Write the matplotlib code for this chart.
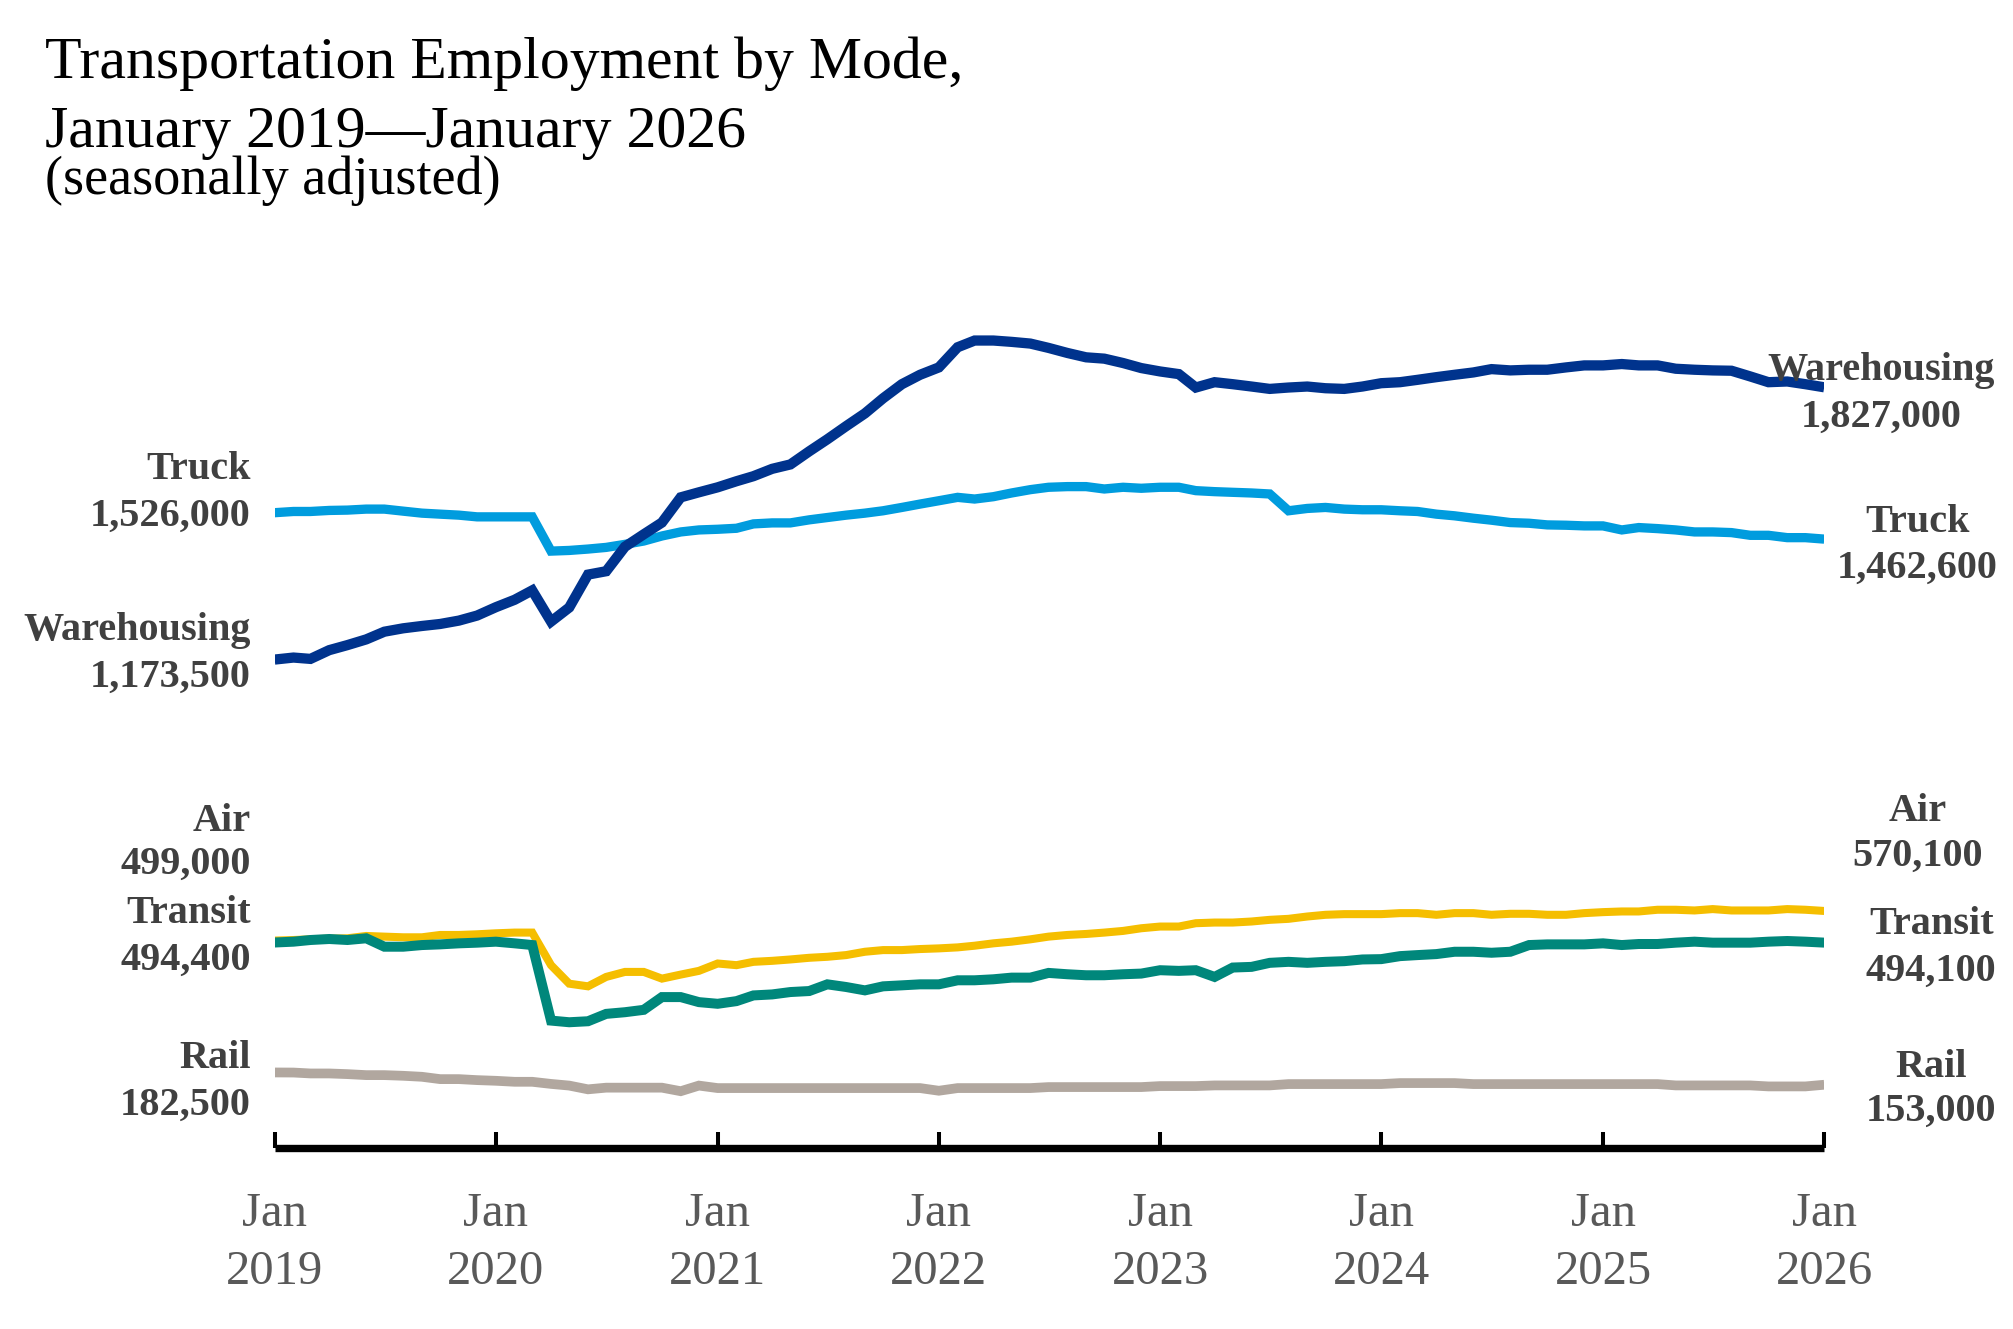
import numpy as np
import pandas as pd
import matplotlib
matplotlib.use("Agg")
import matplotlib.pyplot as plt

plt.rcParams['font.family'] = ['Liberation Serif', 'DejaVu Serif']

# monthly, Jan 2019 - Jan 2026, thousands of jobs
dates = pd.date_range("2019-01-01", "2026-01-01", freq="MS")

warehousing = [
    1173.5, 1178.3, 1175.1, 1196.1, 1208.2, 1221.9, 1240.4, 1248.5, 1254.1, 1258.9, 1267.0, 1279.1,
    1299.2, 1317.0, 1339.5, 1264.6, 1298.4, 1377.4, 1385.5, 1444.3, 1474.1, 1502.3, 1562.8, 1574.9,
    1586.9, 1601.5, 1613.6, 1631.3, 1641.8, 1673.2, 1702.2, 1733.7, 1764.3, 1800.6, 1834.4, 1857.0,
    1874.7, 1923.1, 1939.2, 1939.2, 1936.0, 1931.9, 1921.5, 1909.4, 1898.9, 1895.7, 1885.2, 1873.1,
    1865.0, 1858.6, 1826.4, 1839.2, 1834.4, 1828.8, 1823.1, 1826.4, 1828.8, 1824.7, 1823.1, 1828.8,
    1836.8, 1839.2, 1844.9, 1851.3, 1857.0, 1862.6, 1870.6, 1867.5, 1869.1, 1869.1, 1874.7, 1879.5,
    1879.5, 1882.8, 1879.5, 1879.5, 1871.5, 1869.1, 1867.5, 1866.7, 1853.0, 1839.2, 1840.9, 1834.4,
    1827.0]

truck = [
    1526.0, 1528.9, 1528.9, 1531.4, 1532.2, 1534.6, 1534.6, 1529.7, 1524.9, 1522.5, 1520.1, 1516.0,
    1516.0, 1516.0, 1516.0, 1433.8, 1435.4, 1438.7, 1442.7, 1450.0, 1458.0, 1470.1, 1479.8, 1484.6,
    1486.2, 1488.6, 1499.1, 1501.5, 1501.5, 1508.8, 1514.4, 1520.1, 1524.9, 1530.6, 1538.6, 1546.7,
    1554.7, 1562.8, 1558.8, 1564.4, 1573.3, 1581.3, 1587.0, 1588.6, 1588.6, 1582.9, 1587.0, 1584.6,
    1587.0, 1587.0, 1578.9, 1576.5, 1574.9, 1573.3, 1570.9, 1530.6, 1536.2, 1538.6, 1534.6, 1533.0,
    1533.0, 1530.6, 1528.9, 1522.5, 1518.5, 1512.8, 1508.0, 1502.3, 1500.7, 1496.7, 1495.9, 1494.3,
    1494.3, 1484.6, 1490.3, 1487.8, 1484.6, 1479.8, 1479.8, 1478.2, 1471.7, 1471.7, 1466.1, 1466.1,
    1462.6]

air = [
    499.0, 500.4, 502.0, 503.6, 504.5, 510.1, 508.5, 506.9, 506.9, 512.5, 512.5, 514.1,
    516.5, 518.2, 518.2, 440.0, 395.6, 389.2, 411.8, 423.8, 423.8, 407.7, 417.4, 426.3,
    444.0, 440.0, 448.0, 450.4, 453.7, 457.7, 460.1, 464.2, 472.2, 476.2, 476.2, 478.7,
    480.3, 482.7, 486.7, 492.4, 496.4, 502.0, 508.5, 512.5, 514.9, 518.2, 522.2, 528.6,
    532.7, 532.7, 540.7, 542.3, 542.3, 544.8, 548.8, 551.2, 556.8, 560.9, 562.5, 562.5,
    562.5, 564.9, 564.9, 560.9, 564.9, 564.9, 560.9, 563.3, 563.3, 560.9, 560.9, 564.9,
    567.3, 568.9, 568.9, 573.0, 573.0, 571.3, 574.6, 571.3, 571.3, 571.3, 574.6, 573.0,
    570.1]

transit = [
    494.4, 496.4, 500.4, 502.8, 500.4, 504.5, 484.3, 484.3, 488.3, 489.9, 492.4, 494.0,
    496.4, 492.4, 488.3, 307.0, 303.0, 305.4, 323.1, 327.1, 332.8, 363.4, 363.4, 351.3,
    347.3, 353.7, 367.4, 369.8, 375.5, 377.9, 394.0, 387.6, 379.5, 389.2, 391.6, 394.0,
    394.0, 403.7, 403.7, 406.1, 410.1, 410.1, 421.4, 418.2, 415.8, 415.8, 418.2, 419.8,
    427.9, 426.3, 427.9, 411.8, 434.3, 435.9, 445.6, 448.0, 445.6, 448.0, 449.6, 453.7,
    454.5, 461.7, 464.2, 466.6, 472.2, 472.2, 469.8, 472.2, 488.3, 489.9, 489.9, 489.9,
    492.4, 488.3, 490.8, 490.8, 494.0, 496.4, 494.0, 494.0, 494.0, 496.4, 498.0, 496.4,
    494.1]

rail = [
    182.5, 182.3, 180.1, 180.1, 178.5, 176.1, 176.1, 174.5, 172.1, 166.5, 166.5, 164.1,
    162.5, 160.1, 160.1, 155.0, 151.0, 142.0, 146.0, 146.0, 146.0, 146.0, 137.5, 151.0,
    145.0, 145.0, 145.0, 145.0, 145.0, 145.0, 145.0, 145.0, 145.0, 145.0, 145.0, 145.0,
    138.6, 145.0, 145.0, 145.0, 145.0, 145.0, 147.4, 147.4, 147.4, 147.4, 147.4, 147.4,
    149.8, 149.8, 149.8, 151.4, 151.4, 151.4, 151.4, 154.6, 154.6, 154.6, 154.6, 154.6,
    154.6, 157.0, 157.0, 157.0, 157.0, 154.6, 154.6, 154.6, 154.6, 154.6, 154.6, 154.6,
    154.6, 154.6, 154.6, 154.6, 151.4, 151.4, 151.4, 151.4, 151.4, 149.0, 149.0, 149.0,
    153.0]

names = ["Warehousing", "Truck", "Air", "Transit", "Rail"]
series = [warehousing, truck, air, transit, rail]

colors = {"Warehousing": "#00338D", "Truck": "#009CDE", "Air": "#F5BE00",
          "Transit": "#00877B", "Rail": "#B1A79F"}
widths = {"Warehousing": 7.4, "Truck": 6.7, "Air": 5.8, "Transit": 7.2, "Rail": 7.0}
zorders = {"Warehousing": 6, "Truck": 5, "Air": 3, "Transit": 4, "Rail": 2}

# label offsets in pixels: (dx, name dy, value dy), dy positive = up
left_pos = {"Warehousing": (-24, 20, -27), "Truck": (-24, 34, -13),
            "Air": (-24, 110, 67), "Transit": (-24, 20, -27), "Rail": (-24, 4, -42)}
right_pos = {"Warehousing": (57, 7, -40), "Truck": (93, 7, -39),
             "Air": (93, 90, 45), "Transit": (107, 9, -38), "Rail": (107, 8, -36)}
PX = 0.72  # pixels -> points at dpi 100
label_color = "#404040"

fig = plt.figure(figsize=(20.13, 13.29), dpi=100)
ax = fig.add_axes([0.13646, 0.13582, 0.76975, 0.62701])

for name, vals in zip(names, series):
    ax.plot(dates, vals, color=colors[name], lw=widths[name], zorder=zorders[name],
            solid_capstyle="butt", solid_joinstyle="miter")

    dx, ndy, vdy = left_pos[name]
    start = f"{vals[0] * 1000:,.0f}"
    ax.annotate(name, xy=(dates[0], vals[0]), xytext=(dx * PX, ndy * PX),
                textcoords="offset points", ha="right", va="baseline",
                fontsize=29, fontweight="bold", color=label_color,
                annotation_clip=False, zorder=10)
    ax.annotate(start, xy=(dates[0], vals[0]), xytext=(dx * PX, vdy * PX),
                textcoords="offset points", ha="right", va="baseline",
                fontsize=29, fontweight="bold", color=label_color,
                annotation_clip=False, zorder=10)

    dx, ndy, vdy = right_pos[name]
    end = f"{vals[-1] * 1000:,.0f}"
    ax.annotate(name, xy=(dates[-1], vals[-1]), xytext=(dx * PX, ndy * PX),
                textcoords="offset points", ha="center", va="baseline",
                fontsize=29, fontweight="bold", color=label_color,
                annotation_clip=False, zorder=10)
    ax.annotate(end, xy=(dates[-1], vals[-1]), xytext=(dx * PX, vdy * PX),
                textcoords="offset points", ha="center", va="baseline",
                fontsize=29, fontweight="bold", color=label_color,
                annotation_clip=False, zorder=10)

ax.set_xlim(dates[0], dates[-1])
ax.set_ylim(0, 2000)

year_starts = dates[dates.month == 1]
ax.set_xticks(year_starts)
ax.set_xticklabels([f"Jan\n{d.year}" for d in year_starts])
ax.tick_params(axis="x", direction="in", length=11.4, width=2.9, color="black",
               pad=31, labelsize=35, labelcolor="#595959")
for t in ax.get_xticklabels():
    t.set_linespacing(1.42)

ax.set_yticks([])
for side in ["left", "right", "top"]:
    ax.spines[side].set_visible(False)
ax.spines["bottom"].set_linewidth(5.3)
ax.spines["bottom"].set_capstyle("butt")

fig.text(0.02235, 0.9413, "Transportation Employment by Mode,", fontsize=43,
         va="baseline", ha="left", color="black")
fig.text(0.02235, 0.8897, "January 2019\u2014January 2026", fontsize=43,
         va="baseline", ha="left", color="black")
fig.text(0.02235, 0.8540, "(seasonally adjusted)", fontsize=39,
         va="baseline", ha="left", color="black")

fig.savefig("out.png", dpi=100)
